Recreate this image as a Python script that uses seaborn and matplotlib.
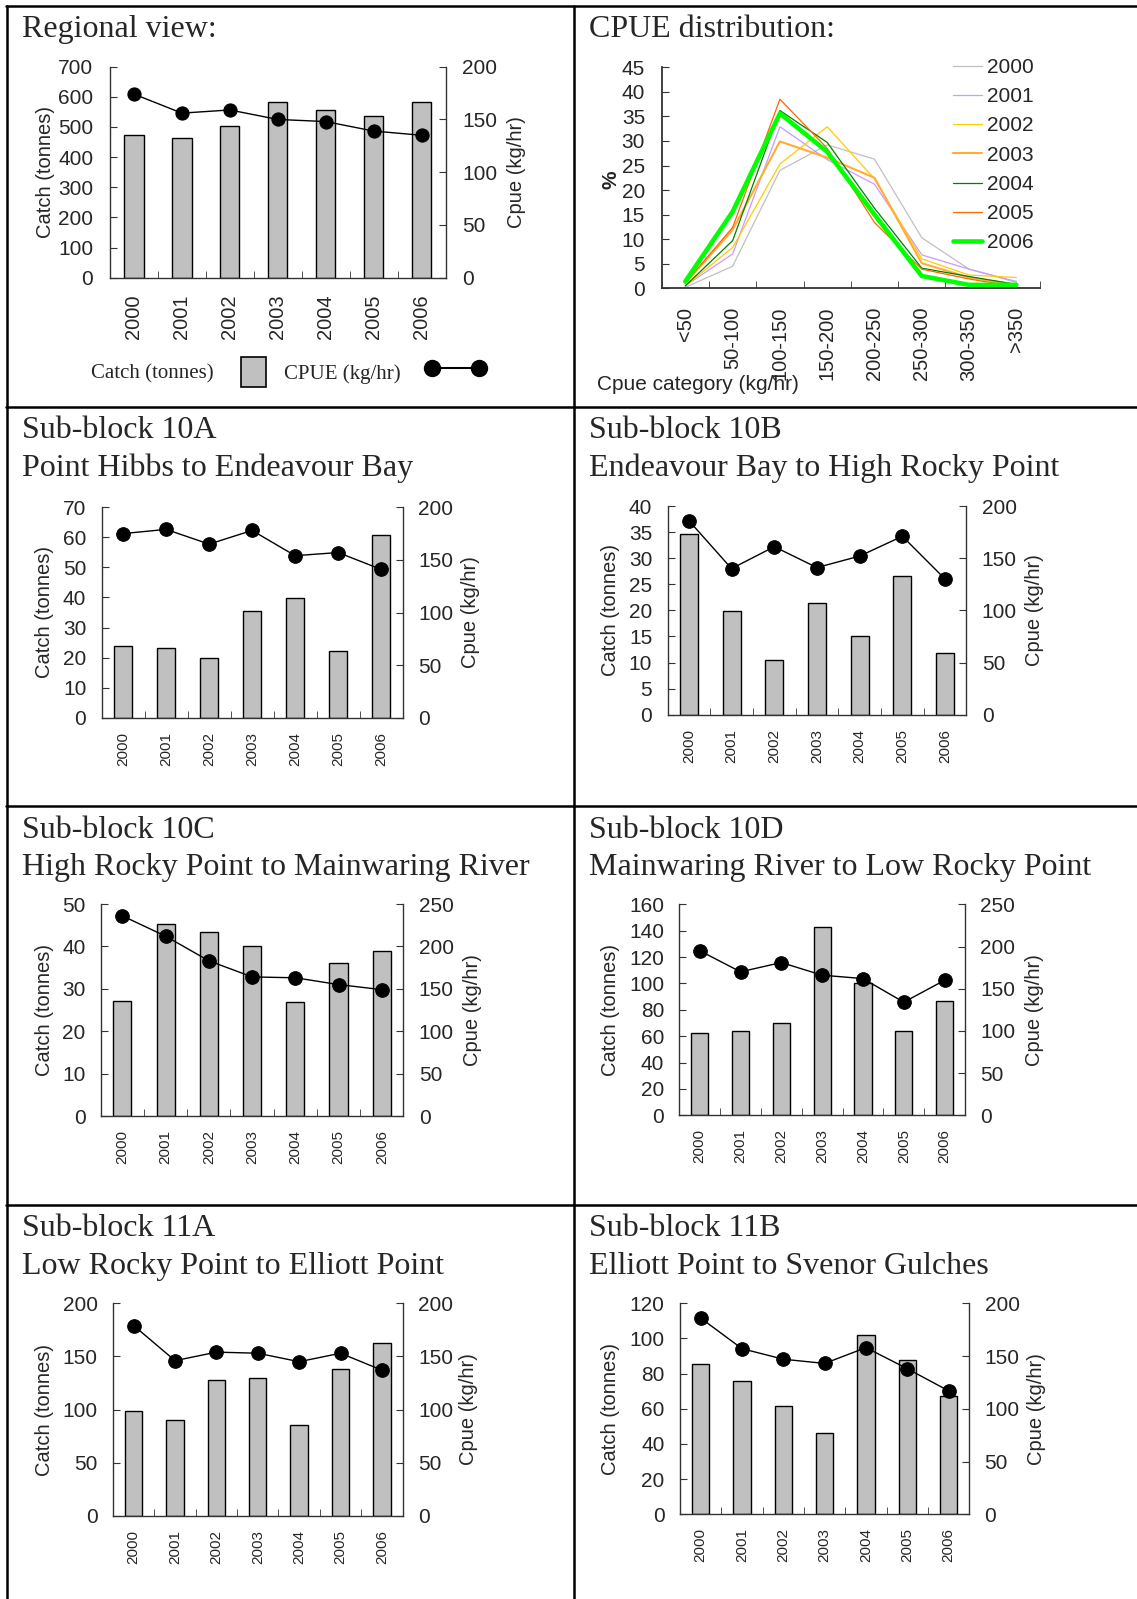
import numpy as np
import pandas as pd
import matplotlib
matplotlib.use("Agg")
import matplotlib.pyplot as plt
import matplotlib.patches as mpatches
from matplotlib.lines import Line2D
import seaborn as sns

# ---------------- data ----------------
years = ["2000", "2001", "2002", "2003", "2004", "2005", "2006"]

regional_catch = [473, 464, 503, 584, 555, 537, 582]
regional_cpue = [174, 156, 159, 150, 148, 139, 135]

cpue_categories = ["<50", "50-100", "100-150", "150-200", "200-250",
                   "250-300", "300-350", ">350"]
dist_2000 = [0.2, 4.5, 24.0, 29.2, 26.3, 10.3, 3.9, 1.2]
dist_2001 = [0.5, 7.0, 32.9, 26.2, 21.2, 6.8, 3.9, 1.4]
dist_2002 = [0.5, 8.3, 25.3, 32.9, 22.3, 6.0, 2.7, 2.2]
dist_2003 = [1.0, 11.9, 29.9, 26.6, 22.5, 5.1, 2.2, 0.7]
dist_2004 = [0.5, 9.7, 36.2, 29.7, 16.3, 4.1, 2.4, 0.8]
dist_2005 = [1.1, 12.4, 38.5, 28.5, 13.4, 3.9, 1.9, 0.3]
dist_2006 = [1.4, 15.6, 35.6, 27.8, 15.0, 2.5, 0.7, 0.7]

catch_10A = [23.9, 23.2, 20.0, 35.5, 39.7, 22.3, 60.8]
cpue_10A = [175, 179, 165, 178, 154, 157, 141]
catch_10B = [34.6, 19.8, 10.4, 21.5, 15.1, 26.6, 11.8]
cpue_10B = [186, 140, 161, 141, 152, 171, 130]
catch_10C = [27.1, 45.4, 43.5, 40.2, 27.0, 36.1, 38.8]
cpue_10C = [236, 212, 183, 164, 163, 155, 149]
catch_10D = [62.2, 64.0, 69.8, 142.8, 100.4, 64.2, 87.0]
cpue_10D = [195, 170, 181, 166, 162, 134, 160]
catch_11A = [98.6, 89.8, 127.5, 129.4, 85.1, 138.5, 162.6]
cpue_11A = [179, 146, 154, 153, 145, 153, 137]
catch_11B = [85.5, 75.8, 61.4, 46.3, 102.2, 87.6, 67.1]
cpue_11B = [186, 157, 147, 143, 158, 138, 117]

titles = {
    "10A": ("Sub-block 10A", "Point Hibbs to Endeavour Bay"),
    "10B": ("Sub-block 10B", "Endeavour Bay to High Rocky Point"),
    "10C": ("Sub-block 10C", "High Rocky Point to Mainwaring River"),
    "10D": ("Sub-block 10D", "Mainwaring River to Low Rocky Point"),
    "11A": ("Sub-block 11A", "Low Rocky Point to Elliott Point"),
    "11B": ("Sub-block 11B", "Elliott Point to Svenor Gulches"),
}

# ---------------- style ----------------
W, H = 1137, 1599
DPI = 100
sns.set_style("ticks")
plt.rcParams["font.family"] = ["Liberation Sans", "DejaVu Sans"]
SERIF = ["Liberation Serif", "DejaVu Serif"]
BAR = "#c0c0c0"
AXC = "#333333"

fig = plt.figure(figsize=(W / DPI, H / DPI), dpi=DPI)
fig.patch.set_facecolor("white")


def fx(x):
    return x / W


def fy(y):
    return 1 - y / H


def add_axes_px(l, r, t, b):
    return fig.add_axes([l / W, 1 - b / H, (r - l) / W, (b - t) / H])


def style_spines(ax, keep):
    for s in ["left", "right", "top", "bottom"]:
        ax.spines[s].set_visible(s in keep)
        ax.spines[s].set_color(AXC)
        ax.spines[s].set_linewidth(1.0)


def bar_line(rect, catch, cpue, cmax, cstep, pmax, pstep, year_fs, year_pad,
             width, tick_fs=15, tick_pad=11, msize=9.8):
    ax = add_axes_px(*rect)
    sns.barplot(x=years, y=catch, color=BAR, edgecolor="black", linewidth=1.0,
                width=width, saturation=1, ax=ax)
    ax2 = ax.twinx()
    sns.pointplot(x=years, y=cpue, color="black", markers="o", linestyles="-",
                  errorbar=None, markersize=msize, linewidth=1.0, ax=ax2)
    ax.set_xlim(-0.5, 6.5)
    ax.set_ylim(0, cmax)
    ax.set_yticks(np.arange(0, cmax + 0.001, cstep))
    ax2.set_ylim(0, pmax)
    ax2.set_yticks(np.arange(0, pmax + 0.001, pstep))
    for a in (ax, ax2):
        a.set_xlabel("")
        a.set_ylabel("")
    ax.set_xticks(range(7))
    ax.set_xticklabels(years)
    ax.set_xticks(np.arange(-0.5, 7.0, 1.0), minor=True)
    ax.tick_params(axis="x", which="major", length=0, labelsize=year_fs,
                   pad=year_pad, labelrotation=90)
    ax.tick_params(axis="x", which="minor", direction="in", length=5,
                   color=AXC)
    ax.tick_params(axis="y", direction="in", length=5, color=AXC,
                   labelsize=tick_fs, pad=tick_pad)
    ax2.tick_params(axis="y", direction="in", length=5, color=AXC,
                    labelsize=tick_fs, pad=tick_pad)
    style_spines(ax, ["left", "bottom"])
    style_spines(ax2, ["right"])
    return ax, ax2


# ---------------- regional view ----------------
reg_rect = (110, 445.6, 66.7, 277.7)
ax_r, ax_r2 = bar_line(reg_rect, regional_catch, regional_cpue, 700, 100, 200, 50,
                       year_fs=14.5, year_pad=12, width=0.4, tick_pad=12, msize=9.5)
fig.text(fx(45.5), fy(172), "Catch (tonnes)", rotation=90, ha="center",
         va="center", fontsize=14.5)
fig.text(fx(517), fy(172), "Cpue (kg/hr)", rotation=90, ha="center",
         va="center", fontsize=14.5)
fs_leg = 15 * DPI / 72
ax_r.legend(handles=[mpatches.Patch(facecolor=BAR, edgecolor="black", linewidth=1.2)],
            labels=["Catch (tonnes)"], markerfirst=False, loc="center left",
            bbox_to_anchor=(fx(91), fy(372)), bbox_transform=fig.transFigure,
            frameon=False, borderpad=0, borderaxespad=0,
            handlelength=25 / fs_leg,
            handleheight=37 / fs_leg, handletextpad=27 / fs_leg,
            prop={"family": SERIF, "size": 15})
ax_r2.legend(handles=[Line2D([], [], color="black", lw=1.5, marker="o",
                             markersize=11.5)],
             labels=["CPUE (kg/hr)"], numpoints=2, markerfirst=False,
             loc="center left", bbox_to_anchor=(fx(284), fy(372)),
             bbox_transform=fig.transFigure, frameon=False, borderpad=0,
             borderaxespad=0,
             handlelength=60 / fs_leg, handleheight=37 / fs_leg,
             handletextpad=25 / fs_leg, prop={"family": SERIF, "size": 15})

# ---------------- CPUE distribution ----------------
dist_years = years
dist_values = [dist_2000, dist_2001, dist_2002, dist_2003, dist_2004, dist_2005, dist_2006]
dist_df = pd.DataFrame({
    "category": cpue_categories * len(dist_years),
    "year": np.repeat(dist_years, len(cpue_categories)),
    "pct": np.concatenate(dist_values),
})
pal = {"2000": "#c0c0c0", "2001": "#cc99ff", "2002": "#ffcc00", "2003": "#ffad33",
       "2004": "#008000", "2005": "#ff6600", "2006": "#00ff00"}
sizes = {"2000": 0.9, "2001": 0.9, "2002": 0.9, "2003": 1.5, "2004": 0.9,
         "2005": 0.9, "2006": 3.3}
axd = add_axes_px(661.7, 1040, 67.3, 288.3)
sns.lineplot(data=dist_df, x="category", y="pct", hue="year", size="year",
             palette=pal, sizes=sizes, sort=False, estimator=None,
             legend=False, ax=axd)
axd.set_xlim(-0.5, 7.5)
axd.set_ylim(0, 45)
axd.set_yticks(np.arange(0, 46, 5))
axd.set_xticks(range(8))
axd.set_xticklabels(cpue_categories)
axd.set_xticks(np.arange(-0.5, 8.0, 1.0), minor=True)
axd.set_xlabel("")
axd.set_ylabel("")
axd.tick_params(axis="x", which="major", length=0, labelsize=14.5, pad=13.4,
                labelrotation=90)
axd.tick_params(axis="x", which="minor", direction="in", length=5, color=AXC)
axd.tick_params(axis="y", direction="in", length=5, color=AXC, labelsize=15, pad=12)
style_spines(axd, ["left", "bottom"])
for s in ["left", "bottom"]:
    axd.spines[s].set_linewidth(1.3)
fig.text(fx(611), fy(180), "%", rotation=90, ha="center", va="center",
         fontsize=15, fontweight="bold")
fig.text(fx(597), fy(385), "Cpue category (kg/hr)", ha="left", va="center",
         fontsize=15)
proxies = [Line2D([], [], color=pal[y], lw=sizes[y]) for y in dist_years]
fs_d = 15 * DPI / 72
axd.legend(proxies, dist_years, loc="upper left",
           bbox_to_anchor=(fx(953), fy(58)), bbox_transform=fig.transFigure,
           frameon=False, borderpad=0, borderaxespad=0,
           handlelength=29 / fs_d,
           handletextpad=5 / fs_d, labelspacing=0.49, fontsize=15)

# ---------------- sub-blocks ----------------
panels = [
    ("10A", (101.6, 402.6, 507.3, 717.7), catch_10A, cpue_10A, 70, 10, 200, 50, 44.7, 471),
    ("10B", (667.5, 966.4, 506.0, 714.7), catch_10B, cpue_10B, 40, 5, 200, 50, 611, 1034),
    ("10C", (100.8, 403.4, 904.0, 1116.0), catch_10C, cpue_10C, 50, 10, 250, 50, 44.7, 473),
    ("10D", (679.3, 965.0, 904.3, 1115.3), catch_10D, cpue_10D, 160, 20, 250, 50, 611, 1034),
    ("11A", (113.0, 402.6, 1303.3, 1515.7), catch_11A, cpue_11A, 200, 50, 200, 50, 44.7, 469),
    ("11B", (680.0, 969.3, 1303.3, 1514.3), catch_11B, cpue_11B, 120, 20, 200, 50, 611, 1037),
]
for key, rect, c, p, cmax, cstep, pmax, pstep, lx, rx in panels:
    bar_line(rect, c, p, cmax, cstep, pmax, pstep, year_fs=11, year_pad=10,
             width=0.42)
    yc = (rect[2] + rect[3]) / 2
    fig.text(fx(lx), fy(yc), "Catch (tonnes)", rotation=90, ha="center",
             va="center", fontsize=14.5)
    fig.text(fx(rx), fy(yc), "Cpue (kg/hr)", rotation=90, ha="center",
             va="center", fontsize=14.5)

# ---------------- titles ----------------
TFS = 23
fig.text(fx(22), fy(36.7), "Regional view:", fontfamily=SERIF, fontsize=TFS,
         va="baseline")
fig.text(fx(589), fy(36.7), "CPUE distribution:", fontfamily=SERIF,
         fontsize=TFS, va="baseline")
row_tops = {"10A": 407, "10B": 407, "10C": 806, "10D": 806, "11A": 1205, "11B": 1205}
col_x = {"10A": 22, "10B": 589, "10C": 22, "10D": 589, "11A": 22, "11B": 589}
for key, (t1, t2) in titles.items():
    fig.text(fx(col_x[key]), fy(row_tops[key] + 31.5), t1, fontfamily=SERIF,
             fontsize=TFS, va="baseline")
    fig.text(fx(col_x[key]), fy(row_tops[key] + 69), t2, fontfamily=SERIF,
             fontsize=TFS, va="baseline")

# ---------------- table grid ----------------
for yy in [6, 407, 806, 1205]:
    fig.add_artist(Line2D([fx(6), 1], [fy(yy), fy(yy)], transform=fig.transFigure,
                          color="black", lw=1.8))
for xx in [6.6, 574]:
    fig.add_artist(Line2D([fx(xx), fx(xx)], [fy(6), 0], transform=fig.transFigure,
                          color="black", lw=1.8))

fig.savefig("out.png", dpi=DPI)
